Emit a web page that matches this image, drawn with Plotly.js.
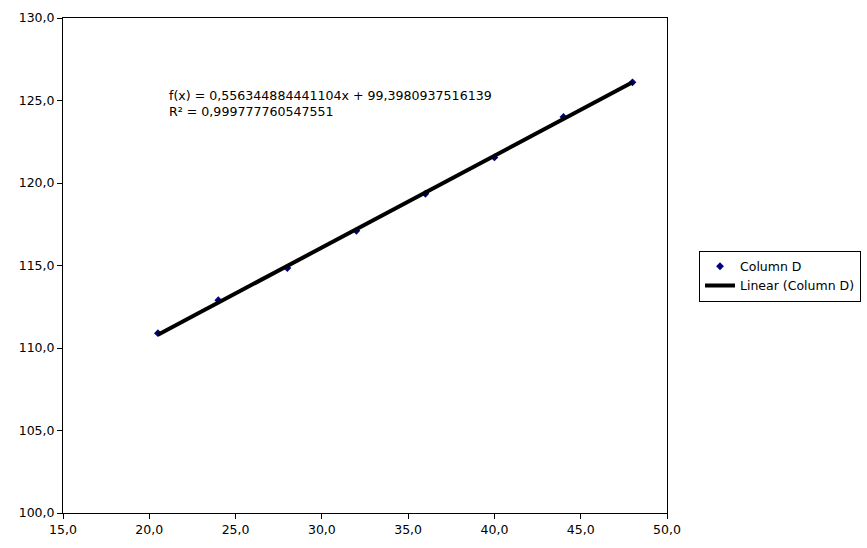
<!DOCTYPE html>
<html>
<head>
<meta charset="utf-8">
<script src="https://cdn.plot.ly/plotly-3.0.1.min.js"></script>
<style>html,body{margin:0;padding:0;background:#fff;}#chart{width:867px;height:548px;}</style>
</head>
<body>
<div id="chart"></div>
<script>
const xValues = [20.5, 24, 28, 32, 36, 40, 44, 48];
const yValues = [110.9, 112.9, 114.85, 117.1, 119.35, 121.55, 124.0, 126.1];
const slope = 0.556344884441104;
const intercept = 99.3980937516139;
const equationText = "f(x) = 0,556344884441104x + 99,3980937516139<br>R² = 0,999777760547551";

const xMin = Math.min(...xValues), xMax = Math.max(...xValues);
const trendX = [xMin, xMax];
const trendY = trendX.map(v => slope * v + intercept);

const traces = [
  {x: xValues, y: yValues, type: 'scatter', mode: 'markers', name: 'Column D',
   marker: {symbol: 'diamond', size: 6, color: '#000080'}},
  {x: trendX, y: trendY, type: 'scatter', mode: 'lines', name: 'Linear (Column D)',
   line: {color: '#000000', width: 4}}
];

const axisCommon = {
  showgrid: false, zeroline: false, showline: true, linecolor: '#000', linewidth: 1,
  mirror: true, ticks: 'outside', ticklen: 5, tickcolor: '#000', tickwidth: 1,
  tickformat: '.1f', tickfont: {family: 'DejaVu Sans', size: 12.5, color: '#000'}
};

const layout = {
  width: 867, height: 548,
  margin: {l: 63, r: 200, t: 18, b: 35, autoexpand: false},
  paper_bgcolor: '#fff', plot_bgcolor: '#fff',
  separators: ', ',
  font: {family: 'DejaVu Sans', size: 12.5, color: '#000'},
  xaxis: Object.assign({range: [15, 50], dtick: 5, tick0: 15}, axisCommon),
  yaxis: Object.assign({range: [100, 130], dtick: 5, tick0: 100}, axisCommon),
  showlegend: true,
  legend: {x: 1.053, y: 0.53, xanchor: 'left', yanchor: 'top',
    bordercolor: '#000', borderwidth: 1, bgcolor: '#fff',
    font: {family: 'DejaVu Sans', size: 12.5, color: '#000'}, tracegroupgap: 0},
  annotations: [{
    xref: 'paper', yref: 'paper', x: 0.174, y: 0.861, xanchor: 'left', yanchor: 'top',
    text: equationText, showarrow: false, align: 'left', borderpad: 0,
    font: {family: 'DejaVu Sans', size: 12.6, color: '#000'}
  }]
};

Plotly.newPlot('chart', traces, layout, {displayModeBar: false, staticPlot: true});
</script>
</body>
</html>
